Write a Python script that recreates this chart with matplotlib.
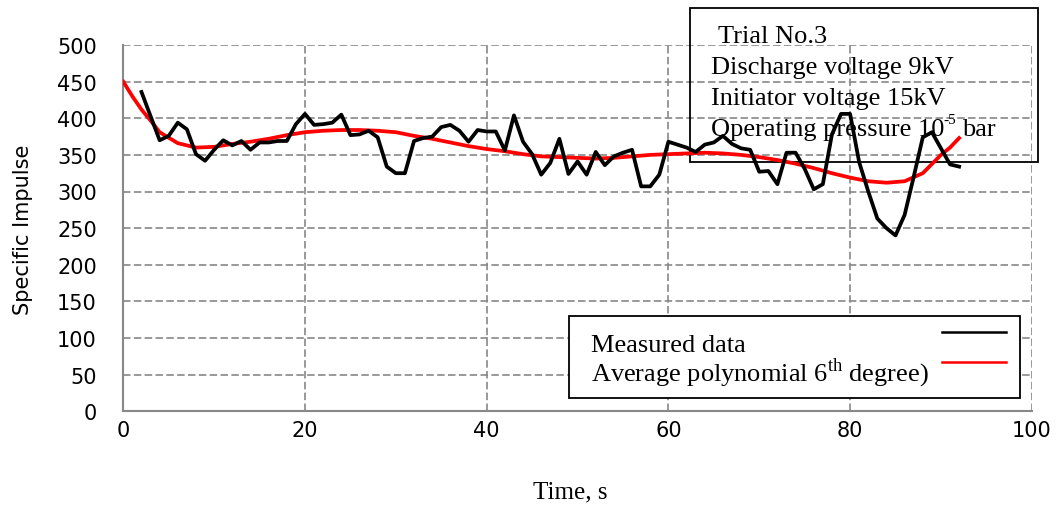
import matplotlib
matplotlib.use("Agg")
import matplotlib.pyplot as plt
from matplotlib.patches import Rectangle
from matplotlib.lines import Line2D

# measured specific impulse, trial No.3
time_s = [2, 4, 5, 6, 7, 8, 9, 10, 11, 12,
          13, 14, 15, 16, 17, 18, 19, 20, 21, 22,
          23, 24, 25, 26, 27, 28, 29, 30, 31, 32,
          33, 34, 35, 36, 37, 38, 39, 40, 41, 42,
          43, 44, 45, 46, 47, 48, 49, 50, 51, 52,
          53, 54, 55, 56, 57, 58, 59, 60, 61, 62,
          63, 64, 65, 66, 67, 68, 69, 70, 71, 72,
          73, 74, 75, 76, 77, 78, 79, 80, 81, 82,
          83, 84, 85, 86, 87, 88, 89, 90, 91, 92]
impulse = [436, 370, 376, 394, 385, 351, 342, 357, 370, 363,
           369, 357, 367, 367, 369, 369, 392, 406, 391, 392,
           394, 405, 377, 378, 383, 374, 334, 325, 325, 369,
           373, 375, 388, 391, 383, 368, 384, 382, 382, 356,
           404, 368, 351, 323, 339, 372, 324, 341, 323, 354,
           336, 348, 353, 357, 307, 307, 323, 368, 364, 360,
           354, 364, 367, 376, 365, 359, 357, 327, 328, 310,
           353, 353, 331, 303, 310, 378, 406, 406, 340, 300,
           263, 250, 240, 268, 320, 374, 381, 359, 337, 334]

# 6th degree trend line
trend_time = [0, 1, 2, 3, 4, 6, 8, 10, 12, 14, 16, 18, 20, 22, 24, 26, 28, 30,
              32, 34, 36, 38, 40, 42, 44, 46, 48, 50, 52, 54, 56, 58, 60, 62,
              64, 66, 68, 70, 72, 74, 76, 78, 80, 82, 84, 86, 88, 90, 91, 92]
trend_impulse = [450, 430, 412, 397, 381, 366, 360, 361, 365, 368, 372, 377,
                 381, 383, 384, 384, 383, 381, 376, 372, 367, 362, 358, 355,
                 351, 348, 347, 346, 345, 346, 348, 350, 351, 352, 353, 352,
                 350, 347, 343, 338, 332, 325, 319, 314, 312, 314, 325, 350,
                 360, 373]

info_lines = ["Trial No.3", "Discharge voltage 9kV", "Initiator voltage 15kV",
              "Operating pressure 10"]
legend_labels = ["Measured data", "Average polynomial 6$^{\\rm th}$ degree)"]

W, H = 1057, 506


def fx(x):
    return x / W


def fy(y):
    return 1 - y / H


plt.rcParams['mathtext.fontset'] = 'custom'
plt.rcParams['mathtext.rm'] = 'Liberation Serif'

fig = plt.figure(figsize=(W / 100, H / 100), dpi=100)
ax = fig.add_axes([fx(123.3), fy(412.1), 908.5 / W, 366 / H])

ax.plot(trend_time, trend_impulse, color='#ff0000', lw=2.7, zorder=4)
ax.plot(time_s, impulse, color='black', lw=2.7, zorder=5)

ax.set_xlim(0, 100)
ax.set_ylim(0, 500)
ax.set_xticks(range(0, 101, 20))
ax.set_yticks(range(0, 501, 50))
ax.grid(True, color='#888888', linestyle=(0, (4.5, 2)), linewidth=1.2)
for side in ['top', 'right']:
    ax.spines[side].set_visible(False)
for side in ['left', 'bottom']:
    ax.spines[side].set_color('#888888')
    ax.spines[side].set_linewidth(1.5)
ax.tick_params(axis='both', length=0, labelsize=15)
ax.tick_params(axis='y', pad=19)
ax.tick_params(axis='x', pad=6.5)

fig.text(fx(23), fy(230), "Specific Impulse", rotation=90, ha='center',
         va='center', fontsize=15)
fig.text(fx(570), fy(492), "Time, s", ha='center', va='center',
         fontsize=18, family='Liberation Serif')

# info box (no fill, gridlines stay visible)
ax.add_patch(Rectangle((fx(690), fy(163)), (1038 - 690) / W, (163 - 9) / H,
                       transform=fig.transFigure, fill=False,
                       edgecolor='black', lw=1.3, clip_on=False, zorder=3))
info_pos = [(718, 43), (711, 74), (711, 105), (711, 136)]
for (x, y), s in zip(info_pos, info_lines):
    ax.text(fx(x), fy(y), s, transform=fig.transFigure, ha='left',
            va='baseline', fontsize=19, family='Liberation Serif', zorder=3)
# exponent and unit of the pressure line
ax.text(fx(943), fy(124), "-5", transform=fig.transFigure, ha='left',
        va='baseline', fontsize=11, family='Liberation Serif', zorder=3)
ax.text(fx(962), fy(136), "bar", transform=fig.transFigure, ha='left',
        va='baseline', fontsize=19, family='Liberation Serif', zorder=3)

# legend box drawn by hand: text on the left, line samples on the right
ax.add_patch(Rectangle((fx(569), fy(399)), (1020 - 569) / W, (399 - 317) / H,
                       transform=fig.transFigure, facecolor='white',
                       edgecolor='black', lw=1.3, clip_on=False, zorder=6))
for y, s in zip([352, 381], legend_labels):
    ax.text(fx(591), fy(y), s, transform=fig.transFigure, ha='left',
            va='baseline', fontsize=19, family='Liberation Serif', zorder=7)
for y, c in zip([333, 363], ['black', '#ff0000']):
    ax.add_line(Line2D([fx(942), fx(1006)], [fy(y), fy(y)], color=c, lw=1.8,
                       transform=fig.transFigure, clip_on=False, zorder=7))

fig.savefig("out.png", dpi=100)
